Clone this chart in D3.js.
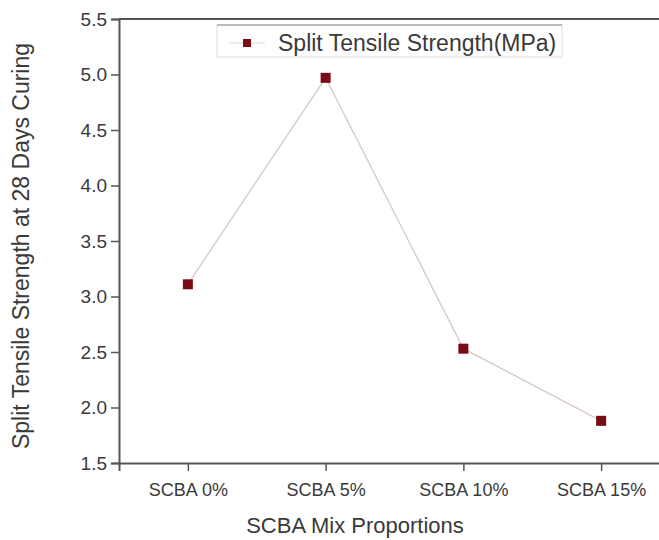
<!DOCTYPE html>
<html>
<head>
<meta charset="utf-8">
<script src="https://cdn.jsdelivr.net/npm/d3@7"></script>
<style>
body { margin: 0; background: #fff; }
text { font-family: "Liberation Sans", Arial, sans-serif; fill: #3a3a3a; }
</style>
</head>
<body>
<svg width="659" height="540"></svg>
<script>
// data
var categories = ["SCBA 0%", "SCBA 5%", "SCBA 10%", "SCBA 15%"];
var strength = [3.11, 4.97, 2.53, 1.88];
var yTicks = [1.5, 2.0, 2.5, 3.0, 3.5, 4.0, 4.5, 5.0, 5.5];
var seriesName = "Split Tensile Strength(MPa)";

var screen = {width: 659, height: 540};
var margins = {top: 19, right: -11, bottom: 77, left: 119};

var width = screen.width - margins.left - margins.right;
var height = screen.height - margins.top - margins.bottom;

var svg = d3.select("svg");

var xScale = d3.scalePoint().domain(categories).range([0, width]).padding(0.5);
var yScale = d3.scaleLinear().domain([1.5, 5.5]).range([height, 0]);

var graph = svg.append("g")
    .attr("id", "graph")
    .attr("transform", "translate(" + margins.left + "," + margins.top + ")");

// top frame line
graph.append("line")
    .attr("x1", 0).attr("x2", width)
    .attr("y1", 0).attr("y2", 0)
    .attr("stroke", "#555").attr("stroke-width", 2);

var xAxis = d3.axisBottom(xScale).tickSize(8).tickPadding(12);
var yAxis = d3.axisLeft(yScale).tickValues(yTicks).tickFormat(d3.format(".1f")).tickSize(8).tickPadding(4);

var gx = graph.append("g")
    .attr("transform", "translate(0," + height + ")")
    .call(xAxis);
var gy = graph.append("g").call(yAxis);

[gx, gy].forEach(function(g) {
    g.select(".domain").attr("stroke", "#555").attr("stroke-width", 2);
    g.selectAll(".tick line").attr("stroke", "#555").attr("stroke-width", 1.5);
    g.selectAll("text").attr("fill", "#3a3a3a");
});
gx.selectAll("text").style("font-size", "18px");
gy.selectAll("text").style("font-size", "19px");

// legend
var legend = graph.append("g").attr("transform", "translate(98,6)");
legend.append("rect")
    .attr("width", 345).attr("height", 32)
    .attr("fill", "#fff").attr("stroke", "#ddd").attr("stroke-width", 1);
legend.append("line")
    .attr("x1", 0).attr("x2", 345).attr("y1", 0).attr("y2", 0)
    .attr("stroke", "#bbb").attr("stroke-width", 2);
legend.append("line")
    .attr("x1", 12).attr("x2", 48).attr("y1", 18).attr("y2", 18)
    .attr("stroke", "#e4d4d4").attr("stroke-width", 1);
legend.append("rect")
    .attr("x", 26).attr("y", 14).attr("width", 8).attr("height", 8)
    .attr("fill", "#7a0a14");
legend.append("text")
    .attr("x", 61).attr("y", 26)
    .style("font-size", "23px")
    .text(seriesName);

// line and markers
var line = d3.line()
    .x(function(d, i) { return xScale(categories[i]); })
    .y(function(d) { return yScale(d); });

graph.append("path")
    .datum(strength)
    .attr("d", line)
    .attr("fill", "none")
    .attr("stroke", "#d6c8c8")
    .attr("stroke-width", 1.3);

graph.selectAll(".marker")
    .data(strength)
    .enter()
    .append("rect")
    .attr("class", "marker")
    .attr("x", function(d, i) { return xScale(categories[i]) - 5; })
    .attr("y", function(d) { return yScale(d) - 5; })
    .attr("width", 10)
    .attr("height", 10)
    .attr("fill", "#7a0a14");

// axis titles
svg.append("text")
    .attr("x", 355).attr("y", 533)
    .attr("text-anchor", "middle")
    .style("font-size", "22px")
    .text("SCBA Mix Proportions");

svg.append("text")
    .attr("transform", "translate(29,246) rotate(-90)")
    .attr("text-anchor", "middle")
    .style("font-size", "23px")
    .text("Split Tensile Strength at 28 Days Curing");
</script>
</body>
</html>
